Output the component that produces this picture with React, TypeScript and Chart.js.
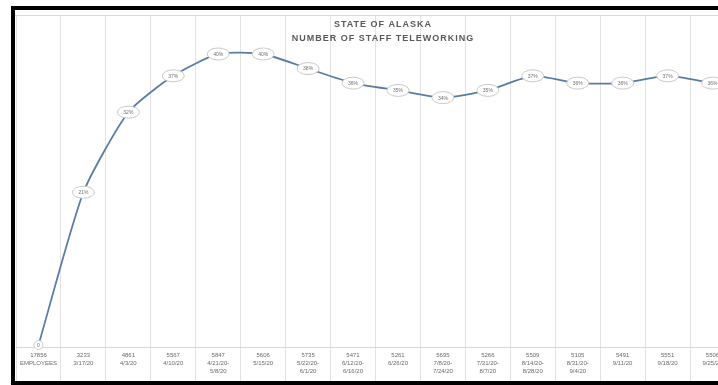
import React, { useEffect, useRef } from "react";
import { Chart, registerables } from "chart.js";

Chart.register(...registerables);

const titleLines = ["STATE OF ALASKA", "NUMBER OF STAFF TELEWORKING"];
const staffCounts = ["17856", "3233", "4861", "5567", "5847", "5606", "5735", "5471", "5261", "5695", "5266", "5509", "5105", "5491", "5551", "5506"];
const periods = [
  ["EMPLOYEES"],
  ["3/17/20"],
  ["4/3/20"],
  ["4/10/20"],
  ["4/21/20-", "5/8/20"],
  ["5/15/20"],
  ["5/22/20-", "6/1/20"],
  ["6/12/20-", "6/16/20"],
  ["6/26/20"],
  ["7/8/20-", "7/24/20"],
  ["7/31/20-", "8/7/20"],
  ["8/14/20-", "8/28/20"],
  ["8/31/20-", "9/4/20"],
  ["9/11/20"],
  ["9/18/20"],
  ["9/25/20"],
];
const percentTeleworking = [0, 21, 32, 37, 40, 40, 38, 36, 35, 34, 35, 37, 36, 36, 37, 36];

const categoryLabels = staffCounts.map((c, i) => [c, ...periods[i]]);

const overlayPlugin = {
  id: "overlay",
  afterDatasetsDraw(chart: any) {
    const ctx = chart.ctx;
    const meta = chart.getDatasetMeta(0);
    ctx.save();
    meta.data.forEach((pt: any, i: number) => {
      const v = percentTeleworking[i];
      const txt = v === 0 ? "0" : `${v}%`;
      ctx.beginPath();
      if (v === 0) ctx.arc(pt.x, pt.y, 4.5, 0, Math.PI * 2);
      else ctx.ellipse(pt.x, pt.y, 11, 6, 0, 0, Math.PI * 2);
      ctx.fillStyle = "#ffffff";
      ctx.fill();
      ctx.lineWidth = 1;
      ctx.strokeStyle = "#c9c9c9";
      ctx.stroke();
      ctx.fillStyle = "#707070";
      ctx.font = "5px 'Liberation Sans', sans-serif";
      ctx.textAlign = "center";
      ctx.textBaseline = "middle";
      ctx.fillText(txt, pt.x, pt.y + 0.5);
    });
    ctx.restore();
  },
  afterDraw(chart: any) {
    const ctx = chart.ctx;
    ctx.save();
    ctx.strokeStyle = "#d9d9d9";
    ctx.lineWidth = 1;
    ctx.beginPath();
    ctx.moveTo(0, chart.chartArea.top + 0.5);
    ctx.lineTo(chart.width, chart.chartArea.top + 0.5);
    ctx.stroke();
    ctx.fillStyle = "#595959";
    ctx.font = "bold 9px 'Liberation Sans', sans-serif";
    (ctx as any).letterSpacing = "1px";
    ctx.textAlign = "center";
    ctx.textBaseline = "middle";
    ctx.fillText(titleLines[0], 368, 15);
    ctx.fillText(titleLines[1], 368, 29);
    ctx.restore();
  },
};

export default function App() {
  const ref = useRef<HTMLCanvasElement | null>(null);
  useEffect(() => {
    if (!ref.current) return;
    const chart = new Chart(ref.current, {
      type: "line",
      data: {
        labels: categoryLabels,
        datasets: [
          {
            data: percentTeleworking,
            borderColor: "#5a7ca3",
            borderWidth: 1.8,
            pointRadius: 0,
            tension: 0.2,
            fill: false,
          },
        ],
      },
      options: {
        animation: false,
        responsive: false,
        maintainAspectRatio: false,
        layout: { padding: { top: 5, left: 1, right: 0, bottom: 0 } },
        plugins: { legend: { display: false }, tooltip: { enabled: false } },
        scales: {
          x: {
            offset: true,
            grid: {
              offset: true,
              color: "#e3e3e3",
              lineWidth: 1,
              drawTicks: true,
              tickLength: 34,
            },
            border: { display: true, color: "#d9d9d9" },
            ticks: {
              autoSkip: false,
              maxRotation: 0,
              minRotation: 0,
              padding: -30,
              color: "#6a6a6a",
              font: { family: "'Liberation Sans', sans-serif", size: 6, lineHeight: 1.33 },
            },
            afterFit: (scale: any) => {
              scale.height = 34;
            },
          },
          y: {
            display: false,
            min: -0.27,
            max: 45.36,
          },
        },
      },
      plugins: [overlayPlugin],
    });
    return () => chart.destroy();
  }, []);

  return (
    <div style={{ position: "fixed", left: 0, top: 0, width: 760, height: 385, overflow: "hidden", background: "#fff" }}>
      <div
        style={{
          position: "absolute",
          left: 11,
          top: 6,
          width: 749,
          height: 379,
          boxSizing: "border-box",
          borderLeft: "4px solid #000",
          borderTop: "4px solid #000",
          borderBottom: "4px solid #000",
        }}
      />
      <canvas ref={ref} width={720} height={371} style={{ position: "absolute", left: 15, top: 10, width: 720, height: 371, display: "block" }} />
    </div>
  );
}
